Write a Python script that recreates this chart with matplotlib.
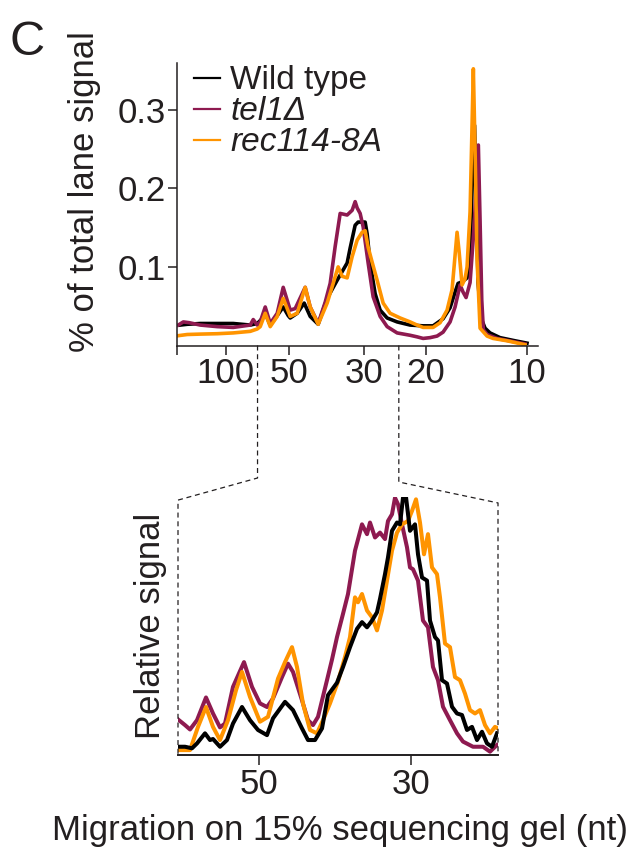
import matplotlib
matplotlib.use("Agg")
import matplotlib.pyplot as plt
from matplotlib.lines import Line2D

plt.rcParams['font.family'] = ['Liberation Sans', 'DejaVu Sans']

INK = '#231f20'
C_WT = '#000000'
C_TEL = '#8e1a50'
C_REC = '#ff9400'
FS = 25

# ---- top panel: % of total lane signal vs migration (a.u.)
wt_x = [3, 10, 23, 40, 56, 73, 80, 84, 88, 93, 100, 106, 111, 113, 120, 127, 133, 141,
        150, 160, 165, 170, 173, 178, 181, 188, 190, 193, 198, 203, 210, 220, 233, 246,
        256, 266, 273, 278, 281, 285, 290, 293, 295, 297.5, 299, 301, 304, 308, 313,
        323, 338, 350]
wt_y = [0.026, 0.027, 0.028, 0.028, 0.028, 0.026, 0.028, 0.033, 0.041, 0.026, 0.038,
        0.049, 0.038, 0.035, 0.041, 0.054, 0.037, 0.027, 0.060, 0.083, 0.094, 0.105,
        0.124, 0.153, 0.157, 0.157, 0.142, 0.105, 0.066, 0.045, 0.035, 0.030, 0.026,
        0.025, 0.025, 0.034, 0.048, 0.068, 0.079, 0.081, 0.086, 0.115, 0.200, 0.280,
        0.200, 0.080, 0.035, 0.022, 0.016, 0.010, 0.006, 0.003]

tel_x = [1, 6, 12, 23, 40, 56, 73, 76, 80, 83, 88, 93, 100, 106, 113, 118, 128, 133,
         141, 148, 153, 158, 163, 170, 175, 178, 180, 183, 186, 191, 196, 203, 210, 220,
         233, 240, 246, 253, 260, 266, 273, 278, 283, 286, 289, 293, 297, 301.3, 303,
         304.7, 306.3, 310, 320, 340, 348]
tel_y = [0.026, 0.030, 0.029, 0.026, 0.024, 0.023, 0.026, 0.033, 0.026, 0.030, 0.049,
         0.028, 0.041, 0.074, 0.045, 0.047, 0.074, 0.049, 0.028, 0.055, 0.079, 0.126,
         0.168, 0.166, 0.172, 0.183, 0.175, 0.168, 0.151, 0.105, 0.062, 0.037, 0.024,
         0.016, 0.013, 0.011, 0.009, 0.010, 0.012, 0.017, 0.030, 0.049, 0.077, 0.068,
         0.061, 0.080, 0.150, 0.255, 0.160, 0.058, 0.020, 0.014, 0.009, 0.004, 0.002]

rec_x = [1, 10, 23, 40, 56, 73, 80, 83, 88, 93, 100, 106, 113, 120, 128, 133, 141, 150,
         156, 161, 165, 170, 175, 180, 185, 188, 191, 195, 200, 206, 213, 223, 233, 240,
         246, 256, 263, 270, 275, 277, 280, 282, 285, 288, 290, 293, 296.3, 298, 300,
         303, 310, 316, 330, 348]
rec_y = [0.0125, 0.014, 0.0145, 0.015, 0.016, 0.018, 0.021, 0.024, 0.041, 0.024, 0.037,
         0.060, 0.037, 0.041, 0.074, 0.049, 0.027, 0.054, 0.079, 0.100, 0.088, 0.086,
         0.113, 0.134, 0.144, 0.146, 0.125, 0.106, 0.083, 0.054, 0.041, 0.035, 0.030,
         0.026, 0.023, 0.023, 0.029, 0.045, 0.071, 0.100, 0.144, 0.120, 0.077, 0.085,
         0.100, 0.170, 0.352, 0.250, 0.110, 0.022, 0.012, 0.009, 0.006, 0.001]

top_ticks = [0, 48.4, 112, 186.7, 248.7, 350]
top_labels = ['', '100', '50', '30', '20', '10']
zoom_lo, zoom_hi = 80.3, 221.7
series_names = ['Wild type', 'tel1Δ', 'rec114-8A']

# ---- bottom panel: relative signal (zoomed window)
wt_bx = [0, 7, 14, 19, 27, 32, 35, 42, 49, 55, 64, 72, 80, 89, 95, 107, 115, 124, 130,
         137, 144, 150, 159, 165, 172, 179, 184, 189, 194, 199, 202, 207, 210, 214, 219,
         222, 225, 228, 232, 237, 240, 244, 249, 252, 257, 260, 264, 269, 274, 279, 284,
         289, 294, 299, 304, 309, 314, 319]
wt_by = [0.032, 0.032, 0.026, 0.045, 0.084, 0.058, 0.062, 0.032, 0.058, 0.122, 0.186,
         0.135, 0.097, 0.077, 0.142, 0.206, 0.174, 0.103, 0.058, 0.058, 0.103, 0.232,
         0.280, 0.341, 0.418, 0.489, 0.515, 0.495, 0.521, 0.553, 0.605, 0.701, 0.766,
         0.869, 0.901, 0.894, 0.997, 1.000, 0.869, 0.894, 0.778, 0.688, 0.676, 0.521,
         0.457, 0.444, 0.290, 0.277, 0.187, 0.161, 0.155, 0.097, 0.109, 0.058, 0.090,
         0.045, 0.032, 0.084]

tel_bx = [0, 7, 12, 19, 28, 35, 42, 47, 55, 66, 74, 82, 89, 95, 104, 110, 115, 124, 130,
          135, 140, 149, 154, 159, 165, 170, 177, 184, 189, 192, 197, 202, 207, 210, 214,
          217, 220, 224, 229, 232, 235, 240, 245, 250, 255, 260, 265, 272, 279, 285, 295,
          305, 312, 319]
tel_by = [0.138, 0.116, 0.099, 0.135, 0.223, 0.161, 0.107, 0.122, 0.264, 0.360, 0.264,
          0.200, 0.186, 0.219, 0.302, 0.354, 0.322, 0.212, 0.135, 0.116, 0.148, 0.290,
          0.370, 0.457, 0.547, 0.624, 0.792, 0.894, 0.856, 0.901, 0.843, 0.862, 0.837,
          0.907, 0.933, 0.997, 0.972, 0.894, 0.805, 0.727, 0.720, 0.676, 0.521, 0.495,
          0.341, 0.290, 0.187, 0.135, 0.084, 0.052, 0.032, 0.032, 0.013, 0.039]

rec_bx = [0, 12, 20, 28, 35, 42, 50, 58, 64, 72, 82, 90, 100, 107, 114, 119, 125, 132,
          139, 145, 152, 160, 167, 172, 177, 180, 184, 189, 194, 199, 204, 209, 214, 219,
          224, 230, 234, 238, 242, 246, 250, 254, 259, 262, 267, 272, 277, 282, 287, 292,
          297, 302, 307, 312, 317, 320]
rec_by = [0.019, 0.019, 0.109, 0.186, 0.109, 0.058, 0.135, 0.251, 0.322, 0.225, 0.129,
          0.148, 0.296, 0.360, 0.418, 0.341, 0.199, 0.097, 0.084, 0.135, 0.200, 0.285,
          0.380, 0.457, 0.611, 0.592, 0.624, 0.560, 0.534, 0.483, 0.560, 0.676, 0.792,
          0.862, 0.894, 0.907, 0.946, 0.991, 0.901, 0.778, 0.856, 0.727, 0.701, 0.611,
          0.432, 0.418, 0.302, 0.290, 0.238, 0.174, 0.161, 0.174, 0.116, 0.084, 0.109,
          0.103]

bot_ticks = [81.3, 233]
bot_labels = ['50', '30']

W, H = 641, 851
fig = plt.figure(figsize=(W / 100, H / 100), dpi=100)

def fx(px):
    return px / W

def fy(py):
    return 1 - py / H

ax1 = fig.add_axes([fx(177.3), fy(345.5), fx(538) - fx(177.3), fy(62.5) - fy(345.5)])
ax1.plot(wt_x, wt_y, color=C_WT, lw=2.6, solid_joinstyle='round')
ax1.plot(tel_x, tel_y, color=C_TEL, lw=2.6, solid_joinstyle='round')
ax1.plot(rec_x, rec_y, color=C_REC, lw=2.6, solid_joinstyle='round')
ax1.set_xlim(0, 361)
ax1.set_ylim(0, 0.36)
ax1.set_xticks(top_ticks)
ax1.set_xticklabels(top_labels)
ax1.set_yticks([0.1, 0.2, 0.3])
ax1.set_yticklabels(['0.1', '0.2', '0.3'])
for s in ['top', 'right']:
    ax1.spines[s].set_visible(False)
for s in ['left', 'bottom']:
    ax1.spines[s].set_linewidth(1.1)
    ax1.spines[s].set_color(INK)
ax1.tick_params(direction='out', length=6.5, width=1.1, colors=INK, labelsize=FS, pad=2)

handles = [Line2D([], [], color=c, lw=1.6) for c in (C_WT, C_TEL, C_REC)]
leg = ax1.legend(handles, series_names,
                 loc='upper left', bbox_to_anchor=(0.045, 0.99), frameon=False,
                 fontsize=24, handlelength=0.78, handletextpad=0.32, labelspacing=0,
                 borderaxespad=0, borderpad=0)
for t in leg.get_texts():
    t.set_color(INK)
leg.get_texts()[1].set_fontstyle('italic')
leg.get_texts()[2].set_fontstyle('italic')

ax2 = fig.add_axes([fx(178), fy(755), fx(498) - fx(178), fy(497) - fy(755)])
ax2.plot(tel_bx, tel_by, color=C_TEL, lw=2.9, solid_joinstyle='round')
ax2.plot(rec_bx, rec_by, color=C_REC, lw=2.9, solid_joinstyle='round')
ax2.plot(wt_bx, wt_by, color=C_WT, lw=2.9, solid_joinstyle='round')
ax2.set_xlim(0, 320)
ax2.set_ylim(0, 1.0)
ax2.set_xticks(bot_ticks)
ax2.set_xticklabels(bot_labels)
ax2.set_yticks([])
for s in ['top', 'right', 'left']:
    ax2.spines[s].set_visible(False)
ax2.spines['bottom'].set_linewidth(1.4)
ax2.spines['bottom'].set_color(INK)
ax2.tick_params(axis='x', direction='out', length=7, width=1.1, colors=INK,
                labelsize=FS, pad=2)
ax2.set_ylabel('Relative signal', fontsize=FS, color=INK, labelpad=8)

# dashed connectors between the zoom window and the lower panel
def to_fig(ax, x, y):
    return fig.transFigure.inverted().transform(ax.transData.transform((x, y)))

def ax_frac(ax, x, y):
    return fig.transFigure.inverted().transform(ax.transAxes.transform((x, y)))

tl = to_fig(ax1, zoom_lo, 0)
tr = to_fig(ax1, zoom_hi, 0)
bl_top = ax_frac(ax2, 0, 0.988)
br_top = ax_frac(ax2, 1, 0.977)
bl_bot = ax_frac(ax2, 0, 0)
br_bot = ax_frac(ax2, 1, 0)
dash = dict(color=INK, lw=0.9, ls=(0, (4, 3)), transform=fig.transFigure)
fig.add_artist(Line2D([tl[0], tl[0], bl_top[0], bl_bot[0]],
                      [tl[1], fy(478), bl_top[1], bl_bot[1]], **dash))
fig.add_artist(Line2D([tr[0], tr[0], br_top[0], br_bot[0]],
                      [tr[1], fy(482), br_top[1], br_bot[1]], **dash))

fig.text(fx(85), fy(192), '% of total lane signal', rotation=90, fontsize=FS,
         color=INK, ha='center', va='center')
fig.text(fx(340), fy(840), 'Migration on 15% sequencing gel (nt)', fontsize=FS,
         color=INK, ha='center', va='baseline')
fig.text(fx(10), fy(55), 'C', fontsize=35, color=INK, ha='left', va='baseline')

fig.savefig('out.png', dpi=100)
